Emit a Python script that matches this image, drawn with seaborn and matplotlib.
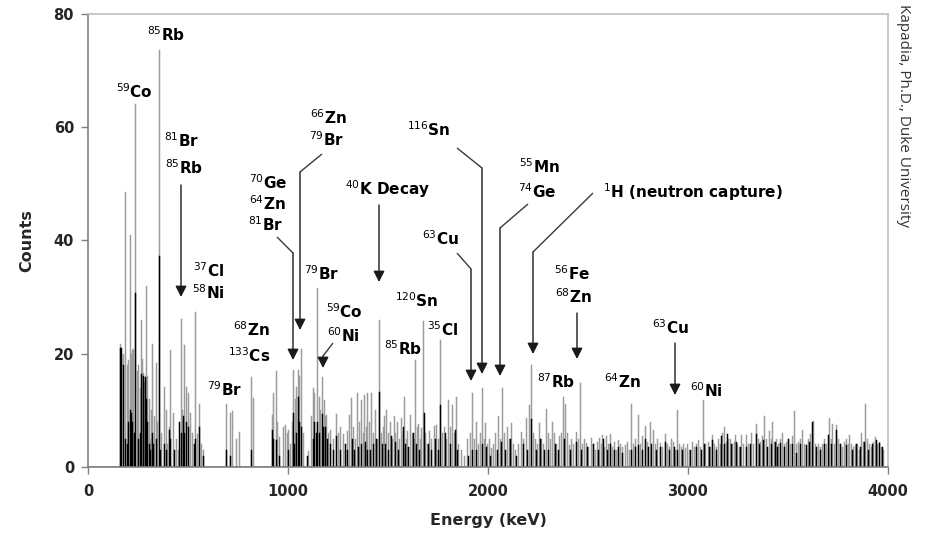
import matplotlib
matplotlib.use("Agg")
import matplotlib.pyplot as plt
import pandas as pd
import seaborn as sns

# ---------------- data (energy keV, counts) ----------------
gray_energy = [
    162, 167, 177, 187, 197, 202, 212, 217, 222, 227, 237, 247, 252, 262, 267, 272, 277, 282, 292, 297,
    307, 312, 317, 322, 332, 342, 347, 357, 367, 382, 392, 397, 407, 412, 427, 442, 452, 467, 472, 482,
    492, 502, 512, 522, 532, 537, 547, 557, 567, 577, 692, 712, 722, 742, 757, 817, 827, 922, 927, 942,
    947, 957, 977, 987, 997, 1002, 1012, 1022, 1027, 1037, 1042, 1052, 1057, 1067, 1077, 1102, 1117, 1127, 1132, 1147,
    1157, 1162, 1172, 1182, 1187, 1192, 1202, 1212, 1227, 1242, 1252, 1262, 1277, 1287, 1297, 1307, 1317, 1327, 1337, 1347,
    1357, 1367, 1377, 1382, 1392, 1397, 1407, 1417, 1427, 1437, 1447, 1457, 1467, 1477, 1482, 1492, 1502, 1512, 1522, 1532,
    1537, 1547, 1557, 1567, 1577, 1582, 1592, 1597, 1612, 1622, 1632, 1637, 1647, 1652, 1662, 1667, 1677, 1687, 1697, 1707,
    1717, 1732, 1742, 1752, 1762, 1772, 1782, 1792, 1802, 1812, 1822, 1832, 1842, 1852, 1867, 1882, 1897, 1912, 1922, 1932,
    1942, 1952, 1962, 1972, 1982, 1987, 1997, 2007, 2017, 2027, 2037, 2052, 2062, 2072, 2082, 2097, 2107, 2117, 2127, 2137,
    2152, 2167, 2177, 2192, 2207, 2217, 2227, 2237, 2247, 2257, 2267, 2277, 2292, 2302, 2312, 2322, 2332, 2342, 2357, 2367,
    2377, 2387, 2397, 2407, 2417, 2427, 2442, 2452, 2462, 2472, 2482, 2492, 2502, 2517, 2527, 2537, 2547, 2557, 2567, 2572,
    2582, 2592, 2602, 2612, 2622, 2632, 2642, 2652, 2662, 2672, 2687, 2697, 2707, 2717, 2727, 2737, 2752, 2762, 2772, 2787,
    2797, 2812, 2827, 2837, 2847, 2862, 2872, 2887, 2897, 2907, 2917, 2927, 2937, 2947, 2957, 2967, 2977, 2987, 2997, 3007,
    3022, 3032, 3042, 3052, 3062, 3077, 3087, 3102, 3112, 3122, 3132, 3142, 3152, 3162, 3172, 3182, 3192, 3202, 3212, 3222,
    3232, 3237, 3247, 3257, 3267, 3277, 3292, 3302, 3317, 3327, 3342, 3352, 3362, 3372, 3382, 3392, 3407, 3417, 3422, 3432,
    3442, 3452, 3462, 3472, 3482, 3492, 3502, 3512, 3522, 3532, 3542, 3552, 3562, 3572, 3582, 3592, 3602, 3612, 3622, 3627,
    3637, 3642, 3652, 3662, 3672, 3682, 3692, 3707, 3717, 3722, 3732, 3742, 3752, 3762, 3772, 3782, 3792, 3802, 3807, 3817,
    3827, 3837, 3847, 3857, 3867, 3877, 3887, 3897, 3907, 3917, 3927, 3937, 3947, 3957, 3967, 3977,
]
gray_counts = [
    21.8, 19.0, 20.0, 48.6, 18.0, 18.9, 41.0, 20.0, 20.6, 20.9, 64.1, 17.0, 18.0, 14.0, 25.9, 19.0, 16.6, 15.0, 32.0, 16.0,
    12.0, 5.0, 10.0, 21.8, 9.0, 18.3, 8.0, 73.7, 6.0, 14.2, 10.1, 4.0, 7.0, 20.6, 9.5, 5.0, 3.0, 26.1, 10.0, 21.5,
    14.2, 13.1, 9.5, 6.0, 4.0, 27.4, 5.9, 11.2, 4.0, 3.0, 11.2, 9.6, 9.9, 5.0, 6.2, 15.9, 12.1, 9.2, 13.0, 17.0,
    8.0, 5.3, 7.0, 7.4, 6.0, 6.6, 4.0, 8.0, 17.2, 12.0, 14.2, 17.2, 16.0, 20.9, 6.0, 2.8, 9.0, 13.9, 13.0, 31.6,
    12.4, 10.0, 15.9, 11.8, 9.0, 9.2, 6.0, 6.5, 5.0, 9.3, 6.0, 7.0, 5.9, 3.0, 6.3, 9.2, 12.1, 7.0, 5.0, 13.0,
    8.0, 11.8, 6.0, 12.7, 7.0, 13.0, 8.0, 13.1, 6.0, 10.1, 5.0, 25.9, 6.0, 7.1, 9.0, 10.0, 6.0, 8.0, 5.0, 9.0,
    6.0, 8.0, 5.0, 8.7, 6.0, 12.3, 5.0, 6.3, 9.2, 6.0, 5.0, 18.9, 7.0, 7.6, 5.0, 6.8, 25.7, 6.0, 4.0, 6.3,
    5.0, 7.2, 7.4, 5.0, 22.4, 6.0, 7.1, 5.0, 11.8, 7.0, 10.9, 6.0, 12.3, 4.0, 3.0, 2.0, 5.0, 6.0, 13.0, 5.0,
    8.0, 4.0, 6.0, 13.9, 5.0, 7.8, 4.0, 5.0, 3.3, 4.0, 6.0, 9.0, 5.0, 13.9, 6.0, 7.1, 5.0, 7.7, 4.0, 3.0,
    4.0, 6.2, 5.0, 8.6, 11.0, 18.1, 6.0, 5.0, 4.0, 7.7, 5.0, 4.0, 10.2, 6.0, 5.0, 8.0, 6.0, 4.0, 5.4, 6.0,
    12.4, 11.2, 6.0, 3.9, 5.0, 4.0, 6.2, 5.0, 14.9, 4.0, 5.0, 4.2, 3.5, 5.1, 4.0, 3.0, 4.5, 5.1, 4.0, 5.6,
    3.5, 5.4, 4.0, 5.9, 3.5, 4.5, 3.0, 4.8, 4.0, 3.5, 3.9, 4.5, 3.0, 11.1, 4.0, 5.0, 9.2, 4.0, 5.5, 7.2,
    4.5, 8.0, 6.6, 4.0, 5.0, 4.2, 3.5, 5.9, 4.0, 3.5, 5.0, 4.5, 3.0, 10.0, 4.0, 3.5, 4.0, 3.3, 4.0, 3.0,
    4.5, 3.5, 4.0, 4.8, 3.5, 11.8, 4.0, 4.5, 3.5, 5.6, 4.0, 3.5, 5.0, 4.0, 6.0, 7.0, 4.5, 5.0, 5.0, 4.0,
    4.5, 5.6, 4.0, 3.5, 5.6, 4.1, 5.7, 4.0, 6.0, 4.0, 7.6, 5.0, 4.5, 5.5, 9.0, 5.0, 6.4, 5.0, 8.0, 4.5,
    5.0, 4.0, 5.0, 6.0, 4.0, 4.5, 5.0, 4.0, 5.5, 9.9, 4.0, 4.5, 5.0, 6.5, 4.0, 3.9, 5.0, 5.9, 4.0, 8.2,
    4.0, 2.9, 4.0, 3.5, 4.1, 5.0, 4.0, 8.6, 5.0, 7.6, 4.0, 7.4, 5.0, 4.0, 3.5, 4.5, 5.0, 4.0, 5.6, 4.0,
    3.5, 3.8, 4.0, 3.0, 6.0, 4.5, 11.2, 5.0, 4.0, 3.5, 4.5, 5.3, 4.0, 4.5, 3.5, 3.0,
]

black_energy = [
    162, 167, 177, 187, 197, 202, 212, 217, 222, 232, 237, 252, 262, 267, 277, 287, 292, 297, 307, 312,
    322, 327, 342, 357, 362, 382, 392, 407, 412,
    432, 457, 467, 477, 482, 492, 502, 532, 537, 557, 577, 692, 712, 817, 922, 927, 942, 957, 1002, 1027,
    1032, 1042, 1052, 1057, 1067, 1097, 1127, 1132, 1142, 1147, 1157, 1172, 1177, 1187, 1197, 1212, 1227, 1242, 1262, 1287,
    1297, 1322, 1332, 1352, 1367, 1387, 1397, 1412, 1427, 1442, 1457, 1472, 1487, 1502, 1517, 1537, 1552, 1577, 1587, 1602,
    1627, 1642, 1657, 1682, 1702, 1717, 1737, 1752, 1762, 1787, 1812, 1837, 1847, 1902, 1922, 1942, 1972, 1992, 2012, 2047,
    2067, 2087, 2112, 2142, 2177, 2197, 2217, 2242, 2262, 2282, 2302, 2337, 2352, 2382, 2412, 2442, 2467, 2497, 2527, 2552,
    2577, 2597, 2612, 2632, 2652, 2672, 2717, 2737, 2752, 2772, 2787, 2802, 2817, 2842, 2862, 2887, 2907, 2932, 2947, 2972,
    3012, 3042, 3067, 3082, 3107, 3122, 3142, 3167, 3182, 3197, 3217, 3242, 3262, 3292, 3312, 3342, 3357, 3377, 3397, 3417,
    3437, 3447, 3462, 3482, 3502, 3522, 3542, 3562, 3592, 3607, 3622, 3642, 3662, 3682, 3702, 3717, 3742, 3762, 3792, 3822,
    3842, 3862, 3882, 3902, 3922, 3942, 3957, 3972,
]
black_counts = [
    21.0, 21.0, 18.0, 5.0, 4.0, 8.0, 10.0, 9.5, 8.0, 6.0, 30.7, 5.0, 6.0, 16.5, 16.0, 15.9, 12.0, 8.0, 4.0, 3.0,
    6.0, 4.0, 5.0, 37.2, 3.0, 4.0, 3.0, 6.5, 5.0,
    3.0, 8.0, 6.0, 9.0, 6.0, 8.0, 7.0, 4.0, 5.0, 7.0, 2.0, 3.0, 2.0, 3.0, 6.5, 5.0, 4.7, 2.0, 3.0, 9.5,
    4.0, 6.0, 12.3, 8.0, 7.0, 2.0, 5.0, 8.0, 6.0, 8.0, 6.0, 9.3, 7.0, 7.0, 5.0, 4.0, 3.0, 5.5, 3.0, 4.0,
    3.0, 5.0, 3.0, 3.5, 4.0, 4.5, 3.0, 3.0, 4.0, 5.0, 13.3, 4.0, 4.0, 3.0, 5.5, 4.5, 3.0, 7.0, 4.0, 3.5,
    6.0, 4.0, 3.0, 9.5, 4.0, 3.0, 5.0, 3.0, 10.9, 6.0, 4.0, 6.5, 3.0, 2.0, 3.0, 3.0, 4.0, 3.5, 2.0, 3.0,
    4.5, 3.0, 5.0, 2.0, 4.0, 3.0, 8.4, 3.0, 5.0, 3.0, 3.0, 4.0, 3.0, 5.0, 3.0, 4.5, 3.0, 3.5, 4.0, 3.0,
    5.0, 3.0, 4.0, 3.0, 3.5, 2.5, 3.0, 3.5, 3.8, 3.0, 5.0, 3.5, 4.0, 3.0, 3.5, 4.5, 3.0, 3.5, 3.0, 3.0,
    3.0, 3.5, 3.0, 4.0, 3.5, 4.8, 3.0, 5.5, 4.0, 5.8, 4.0, 4.5, 3.5, 3.6, 4.0, 5.9, 4.0, 4.8, 3.5, 4.0,
    4.5, 3.5, 4.2, 3.5, 5.0, 4.0, 2.4, 4.0, 3.9, 4.5, 8.0, 3.5, 3.0, 4.0, 5.6, 4.0, 6.5, 4.0, 3.9, 3.0,
    4.0, 3.5, 4.5, 3.0, 4.0, 4.8, 4.2, 3.5,
]

x_ticks = [0, 1000, 2000, 3000, 4000]
y_ticks = [0, 20, 40, 60, 80]

# annotation labels: (mass number, symbol, x px, y px)  -- layout only
labels = [
    ("59", "Co", 134, 92), ("85", "Rb", 166, 35), ("81", "Br", 182, 141), ("85", "Rb", 184, 168),
    ("37", "Cl", 209, 271), ("58", "Ni", 208, 293), ("70", "Ge", 268, 183), ("64", "Zn", 267, 204),
    ("81", "Br", 266, 225), ("66", "Zn", 328, 118), ("79", "Br", 327, 140), ("40", "K Decay", 388, 189),
    ("79", "Br", 322, 274), ("59", "Co", 344, 312), ("60", "Ni", 343, 336), ("68", "Zn", 251, 330),
    ("133", "Cs", 249, 356), ("79", "Br", 225, 390), ("116", "Sn", 429, 130), ("63", "Cu", 441, 239),
    ("120", "Sn", 417, 301), ("35", "Cl", 443, 330), ("85", "Rb", 403, 349), ("55", "Mn", 539, 167),
    ("74", "Ge", 537, 192), ("1", "H (neutron capture)", 693, 192), ("56", "Fe", 572, 274),
    ("68", "Zn", 573, 297), ("87", "Rb", 556, 382), ("64", "Zn", 622, 382), ("63", "Cu", 671, 328),
    ("60", "Ni", 706, 391),
]
arrows = [
    [(181, 185), (181, 297)],
    [(322, 154), (300, 172), (300, 330)],
    [(277, 237), (293, 253), (293, 360)],
    [(333, 343), (323, 356), (323, 368)],
    [(379, 205), (379, 282)],
    [(457, 253), (471, 269), (471, 381)],
    [(457, 148), (482, 168), (482, 374)],
    [(528, 204), (500, 228), (500, 376)],
    [(593, 193), (533, 252), (533, 354)],
    [(577, 313), (577, 359)],
    [(675, 343), (675, 395)],
]

# ---------------- figure ----------------
sns.set_theme(style="ticks")
plt.rcParams['font.family'] = ['DejaVu Sans']
plt.rcParams['mathtext.fontset'] = 'dejavusans'

W, H = 926, 540
fig = plt.figure(figsize=(W / 100, H / 100), dpi=100)
ax = fig.add_axes([88 / W, 1 - 467 / H, 800 / W, 453 / H])

gray_df = pd.DataFrame({"energy": gray_energy, "counts": gray_counts})
black_df = pd.DataFrame({"energy": black_energy, "counts": black_counts})

sns.histplot(data=gray_df, x="energy", weights="counts", binwidth=5, binrange=(0, 4000),
             color="#9c9c9c", alpha=1, edgecolor="#9c9c9c", linewidth=0.35, ax=ax)
sns.histplot(data=black_df, x="energy", weights="counts", binwidth=5, binrange=(0, 4000),
             color="#000000", alpha=1, edgecolor="#000000", linewidth=0.35, ax=ax)

ax.set_xlim(0, 4000)
ax.set_ylim(0, 80)
ax.set_xticks(x_ticks)
ax.set_yticks(y_ticks)
ax.set_xticklabels([str(v) for v in x_ticks], fontweight="bold", fontsize=10.5)
ax.set_yticklabels([str(v) for v in y_ticks], fontweight="bold", fontsize=10.5)
ax.tick_params(axis="both", direction="out", length=5, width=1, color="#808080", pad=5)
ax.tick_params(axis="x", pad=7)
for side in ["left", "bottom"]:
    ax.spines[side].set_color("#808080")
    ax.spines[side].set_linewidth(1.2)
for side in ["top", "right"]:
    ax.spines[side].set_visible(True)
    ax.spines[side].set_color("#c0c0c0")
    ax.spines[side].set_linewidth(1.2)
ax.set_xlabel("Energy (keV)", fontweight="bold", fontsize=11.5, labelpad=10)
ax.set_ylabel("Counts", fontweight="bold", fontsize=11.5, labelpad=14)
ax.grid(False)


def px(x, y):
    return ((x - 88) * 5.0, (467 - y) / 5.6625)


for mass, sym, x, y in labels:
    dx, dy = px(x, y)
    ax.text(dx, dy, f"$^{{{mass}}}$" + sym, ha="center", va="center",
            fontsize=11, fontweight="bold", color="black", clip_on=False)

for pts in arrows:
    dpts = [px(x, y) for x, y in pts]
    if len(dpts) > 2:
        xs = [p[0] for p in dpts[:-1]]
        ys = [p[1] for p in dpts[:-1]]
        ax.plot(xs, ys, color="#3a3a3a", lw=1.0, solid_capstyle="butt")
    ax.annotate("", xy=dpts[-1], xytext=dpts[-2],
                arrowprops=dict(arrowstyle="-|>,head_length=0.55,head_width=0.28",
                                color="#1a1a1a", lw=1.0, shrinkA=0, shrinkB=0))

fig.text(903 / W, 1 - 4 / H, "Kapadia, Ph.D., Duke University", rotation=270,
         ha="center", va="top", fontsize=11, family=["Open Sans", "DejaVu Sans"], color="#333333")

fig.savefig("out.png", dpi=100)
